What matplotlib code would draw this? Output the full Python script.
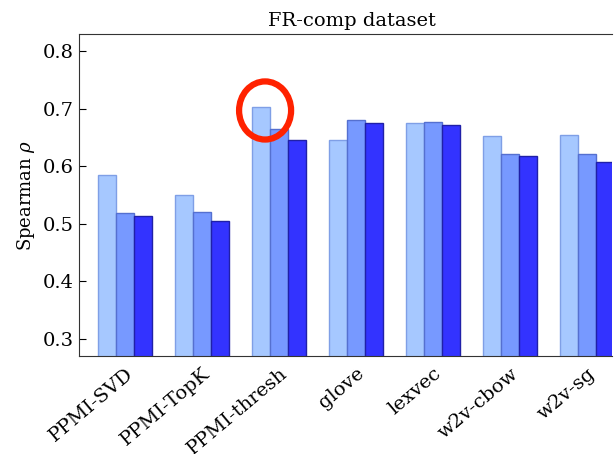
import matplotlib
matplotlib.use("Agg")
import matplotlib.pyplot as plt
import numpy as np
from matplotlib.patches import Ellipse

plt.rcParams['font.family'] = 'DejaVu Serif'
plt.rcParams['mathtext.fontset'] = 'dejavuserif'

methods = ['PPMI-SVD', 'PPMI-TopK', 'PPMI-thresh', 'glove', 'lexvec', 'w2v-cbow', 'w2v-sg']
series_a = [0.584, 0.550, 0.703, 0.646, 0.675, 0.653, 0.654]
series_b = [0.518, 0.521, 0.664, 0.680, 0.677, 0.621, 0.621]
series_c = [0.513, 0.505, 0.646, 0.675, 0.671, 0.618, 0.608]

fills = ['#a6c8ff', '#7799ff', '#3333ff']
edges = ['#7f9fe6', '#5570d0', '#2020a8']

fig = plt.figure(figsize=(6.16, 4.54), dpi=100)
ax = fig.add_axes([79 / 616, 1 - 356 / 454, (612 - 79) / 616, (356 - 34) / 454])

x = np.arange(len(methods))
w = 0.233
for i, vals in enumerate([series_a, series_b, series_c]):
    ax.bar(x + (i - 1) * w, vals, w, color=fills[i], edgecolor=edges[i], linewidth=1.0)

ax.set_xlim(-0.6, 6.32)
ax.set_ylim(0.27, 0.83)
ax.set_yticks([0.3, 0.4, 0.5, 0.6, 0.7, 0.8])
ax.set_xticks(x)
ax.set_xticklabels(methods, rotation=40, ha='right', rotation_mode='anchor', fontsize=14)
ax.tick_params(axis='y', direction='in', labelsize=14, length=5)
ax.tick_params(axis='x', length=0, pad=6)
ax.spines['right'].set_visible(False)
for s in ['left', 'top', 'bottom']:
    ax.spines[s].set_color('#333333')
ax.set_ylabel(r'Spearman $\rho$', fontsize=13)
ax.set_title('FR-comp dataset', fontsize=14, x=0.512)

# red highlight around PPMI-thresh
ax.add_patch(Ellipse((1.816, 0.697), 52 / 77, 58 / 574, fill=False,
                     edgecolor='#ff2200', linewidth=4.5, clip_on=False))

fig.savefig('out.png', dpi=100)
